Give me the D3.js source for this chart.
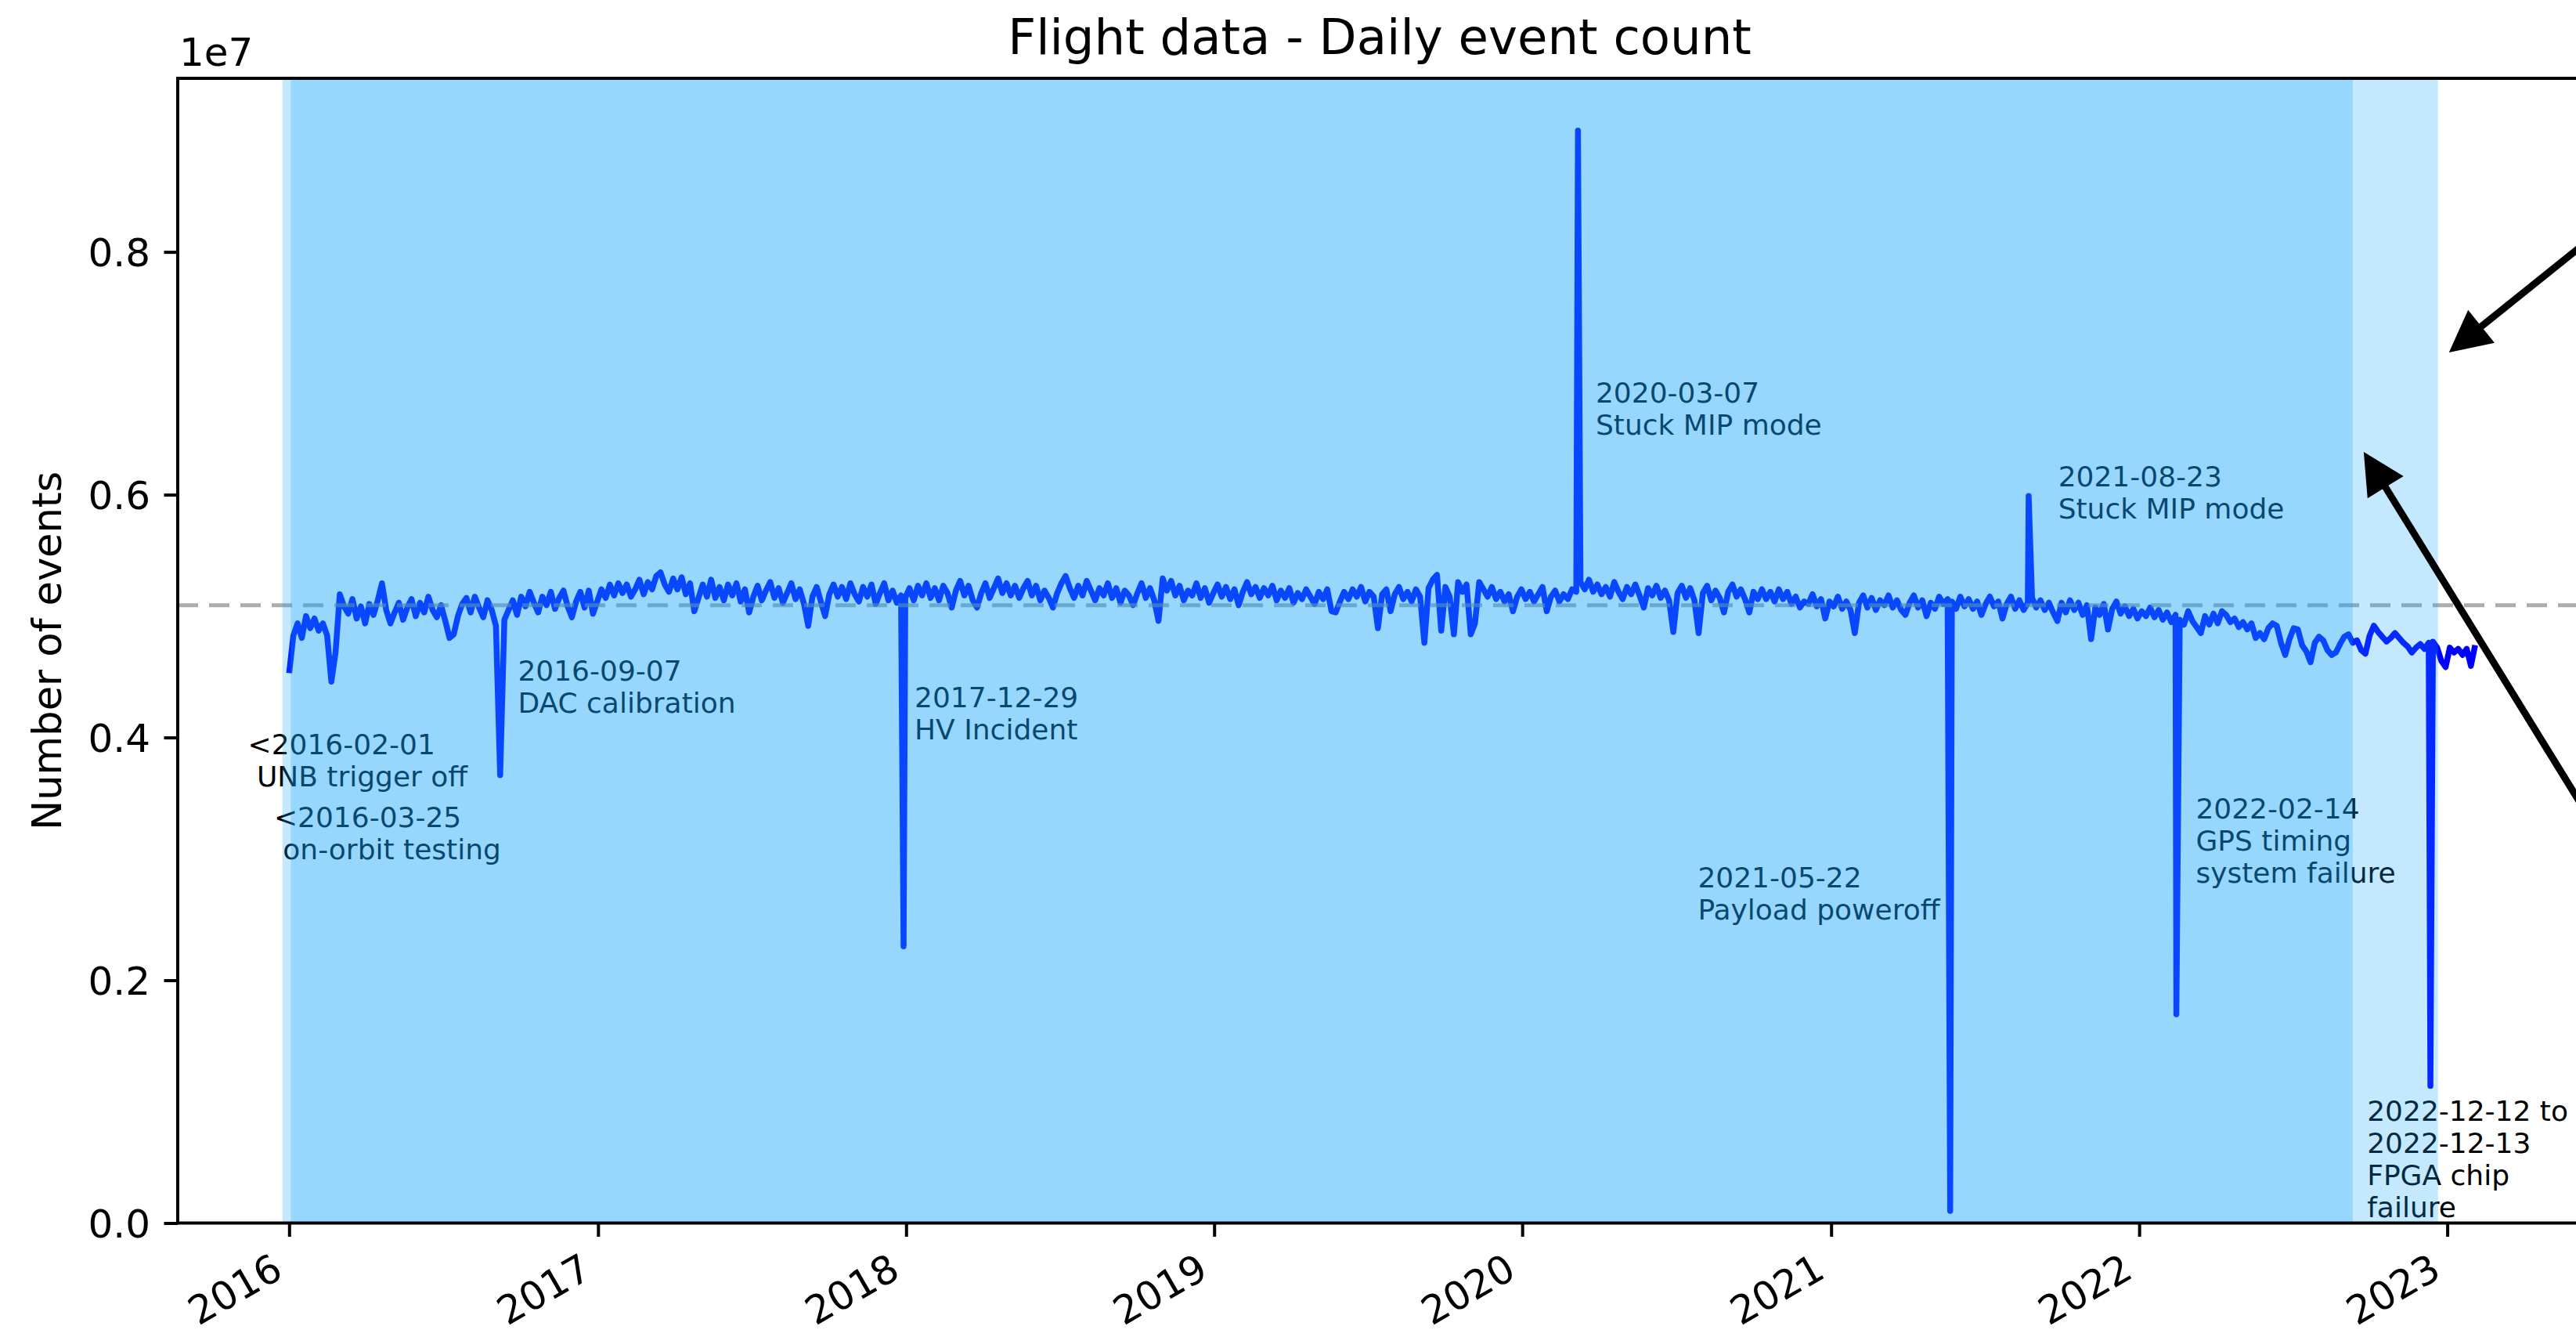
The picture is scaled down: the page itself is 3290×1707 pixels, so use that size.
<!DOCTYPE html>
<html>
<head>
<meta charset="utf-8">
<script src="https://cdn.jsdelivr.net/npm/d3@7"></script>
<style>
  html, body { margin: 0; padding: 0; background: #ffffff; }
  svg { display: block; }
  text { font-family: "DejaVu Sans", sans-serif; }
</style>
</head>
<body>
<svg id="chart" width="3290" height="1707"></svg>
<script>
// ---------------------------------------------------------------------------
// Daily event count, one reading every 5 days from 2016-01-01 (units of 1e4)
// ---------------------------------------------------------------------------
const seriesStart = "2016-01-01";
const stepDays = 5;
const countUnit = 1e4;
const counts = [
  453,484,494,482,500,490,498,488,494,484,
  446,470,518,508,502,514,498,508,494,510,
  501,513,527,505,494,503,511,497,507,514,
  500,511,503,516,505,499,509,496,482,485,
  500,510,515,503,516,507,499,513,505,492,
  498,497,505,513,501,516,508,520,511,503,
  516,509,520,506,515,521,508,499,512,520,
  507,521,502,512,522,515,526,517,527,519,
  526,516,522,530,518,528,522,533,536,526,
  520,531,522,532,518,527,504,515,526,516,
  530,515,524,513,526,517,527,512,522,503,
  516,525,513,521,528,515,523,511,519,527,
  514,522,510,492,516,524,512,500,518,526,
  516,524,514,527,518,512,524,516,526,510,
  519,527,513,521,511,517,515,523,513,525,
  517,527,515,523,513,525,519,507,521,529,
  517,525,513,507,519,527,515,523,531,519,
  527,517,525,515,523,529,517,525,513,521,
  515,507,519,527,533,523,515,525,517,529,
  521,513,523,517,527,515,523,511,521,517,
  509,519,527,515,523,513,496,531,521,529,
  517,525,513,521,517,527,515,523,511,519,
  526,516,524,514,522,509,520,528,518,524,
  515,523,517,525,513,521,515,523,511,519,
  514,522,516,510,520,514,522,504,503,512,
  520,514,522,516,524,512,520,516,490,518,
  522,504,518,524,514,520,512,522,516,478,
  523,530,534,488,524,516,485,528,520,526,
  485,494,528,522,516,524,514,520,512,518,
  504,516,522,514,520,512,518,524,504,516,
  521,512,518,514,522,520,528,522,530,520,
  526,518,524,516,528,520,514,524,518,526,
  517,507,523,517,525,515,521,513,487,519,
  525,515,523,513,486,519,525,513,521,515,
  503,520,526,516,522,514,503,520,514,522,
  514,520,512,522,514,520,510,516,507,512,
  510,518,508,514,498,512,508,516,506,512,
  505,486,511,517,507,515,505,513,509,517,
  507,513,505,501,511,517,507,513,500,511,
  506,516,510,514,512,506,516,508,514,506,
  512,501,510,516,508,512,498,510,516,506,
  513,505,511,515,507,513,505,511,503,496,
  511,503,513,505,511,501,509,481,507,501,
  510,489,506,512,502,508,500,506,498,504,
  500,507,499,505,497,503,495,501,497,493,
  504,496,491,486,500,493,502,494,504,501,
  495,498,491,495,489,494,482,486,481,490,
  494,492,478,468,481,490,489,476,471,462,
  478,483,480,472,468,470,477,483,485,478,
  480,472,469,484,492,487,483,479,482,486,
  482,478,475,470,474,477,473,478,479,474,
  463,458,474,470,473,468,473,459,476
];

// Single anomalous days (units of 1e4)
const eventDays   = ["2016-09-07","2017-12-29","2020-03-07","2021-05-22","2021-08-23","2022-02-14","2022-12-12"];
const eventCounts = [369, 228, 900, 10, 599, 172, 113];

// Reference level of the daily count
const meanLevel = 5.09e6;

// Shaded periods
const spanStarts = ["2015-12-24", "2016-01-03"];
const spanEnds   = ["2022-12-21", "2022-09-11"];

// Event notes: anchor date, level of the first line, text lines
const noteDates  = ["2015-11-13","2015-12-14","2016-09-28","2018-01-11","2020-03-28","2020-07-27","2021-09-27","2022-03-09","2022-09-28"];
const noteLevels = [3.862e6, 3.262e6, 4.468e6, 4.249e6, 6.759e6, 2.765e6, 6.068e6, 3.333e6, 0.842e6];
const noteLines  = [
  ["<2016-02-01", " UNB trigger off"],
  ["<2016-03-25", " on-orbit testing"],
  ["2016-09-07", "DAC calibration"],
  ["2017-12-29", "HV Incident"],
  ["2020-03-07", "Stuck MIP mode"],
  ["2021-05-22", "Payload poweroff"],
  ["2021-08-23", "Stuck MIP mode"],
  ["2022-02-14", "GPS timing", "system failure"],
  ["2022-12-12 to", "2022-12-13", "FPGA chip", "failure"]
];

// Pointer arrows: tip and tail in (date, count)
const arrowTipDates   = ["2023-01-03", "2022-09-24"];
const arrowTipLevels  = [7.172e6, 6.352e6];
const arrowTailDates  = ["2023-10-19", "2023-09-30"];
const arrowTailLevels = [8.785e6, 2.171e6];

// Axis settings
const xDomain = ["2015-08-22", "2023-06-09"];
const yMax = 9.43e6;
const yTicks = [0, 2e6, 4e6, 6e6, 8e6];

// ---------------------------------------------------------------------------
const parse = d3.utcParse("%Y-%m-%d");
const svg = d3.select("#chart");

const plot = { left: 227, right: 3297, top: 100, bottom: 1561.5 };

const x = d3.scaleUtc().domain(xDomain.map(parse)).range([plot.left, plot.right]);
const y = d3.scaleLinear().domain([0, yMax]).range([plot.bottom, plot.top]);

// merge regular readings with the single-day anomalies
const start = parse(seriesStart);
const byTime = new Map();
counts.forEach((c, i) => {
  const d = d3.utcDay.offset(start, i * stepDays);
  byTime.set(+d, { date: d, value: c * countUnit });
});
eventDays.forEach((s, i) => {
  const d = parse(s);
  byTime.set(+d, { date: d, value: eventCounts[i] * countUnit });
});
const series = Array.from(byTime.values()).sort((a, b) => a.date - b.date);

svg.append("defs").append("clipPath").attr("id", "plotClip")
  .append("rect")
  .attr("x", plot.left).attr("y", plot.top)
  .attr("width", plot.right - plot.left).attr("height", plot.bottom - plot.top);

const inner = svg.append("g").attr("clip-path", "url(#plotClip)");

// event notes
const noteSize = 36, noteLead = 41;
noteDates.forEach((ds, i) => {
  const t = inner.append("text")
    .attr("x", x(parse(ds)))
    .attr("y", y(noteLevels[i]))
    .attr("font-size", noteSize)
    .attr("fill", "#000")
    .style("white-space", "pre");
  noteLines[i].forEach((ln, k) => {
    t.append("tspan")
      .attr("x", x(parse(ds)))
      .attr("y", y(noteLevels[i]) + k * noteLead)
      .text(ln);
  });
});

// daily count line
const line = d3.line().x(d => x(d.date)).y(d => y(d.value));
inner.append("path")
  .datum(series)
  .attr("d", line)
  .attr("fill", "none")
  .attr("stroke", "#0000ff")
  .attr("stroke-width", 7.5)
  .attr("stroke-linejoin", "round");

// reference level
inner.append("line")
  .attr("x1", plot.left).attr("x2", plot.right)
  .attr("y1", y(meanLevel)).attr("y2", y(meanLevel))
  .attr("stroke", "#808080")
  .attr("stroke-opacity", 0.65)
  .attr("stroke-width", 5)
  .attr("stroke-dasharray", "26 14");

// shaded periods (translucent, over the data)
spanStarts.forEach((s, i) => {
  const x0 = x(parse(s)), x1 = x(parse(spanEnds[i]));
  inner.append("rect")
    .attr("x", x0).attr("y", plot.top)
    .attr("width", x1 - x0).attr("height", plot.bottom - plot.top)
    .attr("fill", "#13a3fa")
    .attr("fill-opacity", 0.25);
});

// spines
const spine = svg.append("g").attr("stroke", "#000").attr("stroke-width", 4).attr("fill", "none");
spine.append("rect")
  .attr("x", plot.left).attr("y", plot.top)
  .attr("width", plot.right - plot.left).attr("height", plot.bottom - plot.top);

// y axis
const yAxis = svg.append("g")
  .attr("transform", `translate(${plot.left},0)`)
  .call(d3.axisLeft(y).tickValues(yTicks).tickFormat(d => (d / 1e7).toFixed(1))
    .tickSize(17.5).tickPadding(17.5));
yAxis.select(".domain").remove();
yAxis.selectAll(".tick line").attr("stroke", "#000").attr("stroke-width", 4);
yAxis.selectAll(".tick text")
  .attr("font-size", 50).attr("fill", "#000")
  .attr("font-family", "DejaVu Sans, sans-serif")
  .attr("dy", "0.36em");

// x axis
const xAxis = svg.append("g")
  .attr("transform", `translate(0,${plot.bottom})`)
  .call(d3.axisBottom(x).ticks(d3.utcYear.every(1)).tickFormat(d3.utcFormat("%Y"))
    .tickSize(17.5).tickPadding(17.5));
xAxis.select(".domain").remove();
xAxis.selectAll(".tick line").attr("stroke", "#000").attr("stroke-width", 4);
xAxis.selectAll(".tick text")
  .attr("font-size", 50).attr("fill", "#000")
  .attr("font-family", "DejaVu Sans, sans-serif")
  .attr("text-anchor", "end")
  .attr("x", -6).attr("y", 68).attr("dy", 0)
  .attr("transform", "rotate(-30,-6,68)");

// offset label for the y scale
svg.append("text")
  .attr("x", plot.left + 2).attr("y", 84)
  .attr("font-size", 50).attr("fill", "#000")
  .text("1e7");

// y label
svg.append("text")
  .attr("transform", `translate(78,${(plot.top + plot.bottom) / 2}) rotate(-90)`)
  .attr("text-anchor", "middle")
  .attr("font-size", 51).attr("fill", "#000")
  .text("Number of events");

// title
svg.append("text")
  .attr("x", (plot.left + plot.right) / 2).attr("y", 69)
  .attr("text-anchor", "middle")
  .attr("font-size", 62.5).attr("fill", "#000")
  .text("Flight data - Daily event count");

// pointer arrows
const headLen = 53, headHalf = 27;
arrowTipDates.forEach((ds, i) => {
  const tx = x(parse(ds)), ty = y(arrowTipLevels[i]);
  const sx = x(parse(arrowTailDates[i])), sy = y(arrowTailLevels[i]);
  const L = Math.hypot(sx - tx, sy - ty);
  const ux = (sx - tx) / L, uy = (sy - ty) / L;
  const bx = tx + ux * headLen, by = ty + uy * headLen;
  svg.append("line")
    .attr("x1", sx).attr("y1", sy).attr("x2", bx - ux * 4).attr("y2", by - uy * 4)
    .attr("stroke", "#000").attr("stroke-width", 9);
  svg.append("path")
    .attr("d", `M${tx},${ty}L${bx - uy * headHalf},${by + ux * headHalf}L${bx + uy * headHalf},${by - ux * headHalf}Z`)
    .attr("fill", "#000");
});
</script>
</body>
</html>
